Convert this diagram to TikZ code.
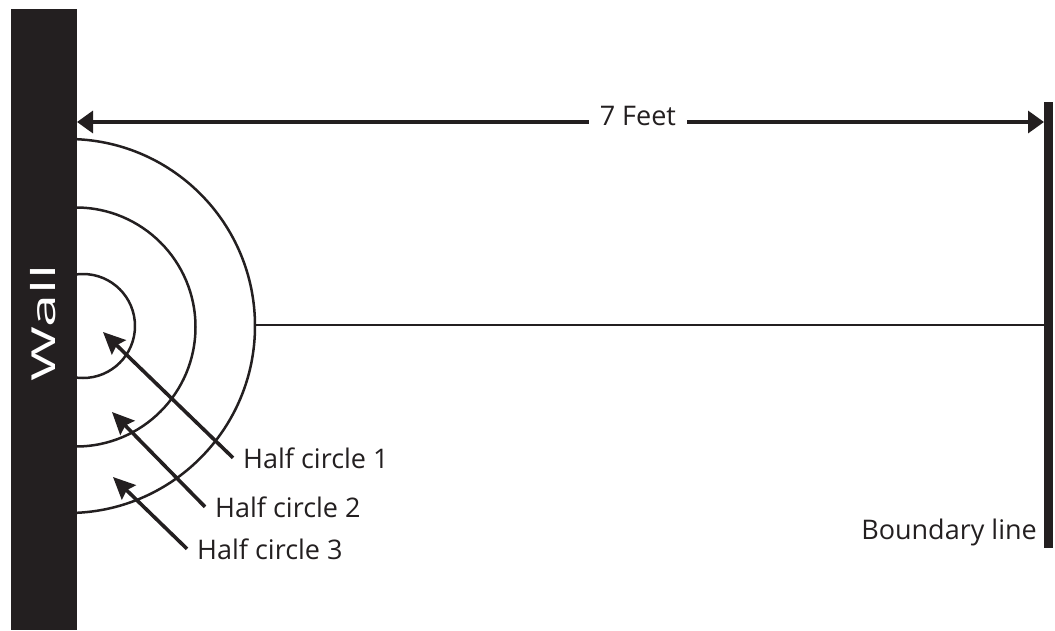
\documentclass[tikz,border=0pt]{standalone}
\usepackage{fontspec}
\setmainfont{Open Sans}
\usetikzlibrary{arrows.meta}
\definecolor{wallink}{HTML}{231F20}
\begin{document}
\begin{tikzpicture}[x=1pt,y=-1pt,line join=round,
    every node/.style={font=\fontsize{27}{31}\selectfont,text=wallink},
    ring/.style={draw=wallink,line width=2.5pt},
    pointer/.style={draw=wallink,line width=3.6pt,-{Stealth[length=22pt,width=20pt,inset=3pt]}},
    halflab/.style={anchor=base west,inner sep=10pt}]
  \useasboundingbox (0,0) rectangle (1055,630);
  % 墙与边界线
  \coordinate (W1) at (11,9);
  \coordinate (W2) at (77,630);
  \coordinate (B1) at (1044,102);
  \coordinate (B2) at (1053,548);
  \coordinate (L) at (77,122);
  \coordinate (R) at (1044,122);

  % 三个圆心与半径
  \coordinate (O1) at (83,326);
  \coordinate (O2) at (76,327);
  \coordinate (O3) at (68,326);
  \def\ra{52}
  \def\rb{119.5}
  \def\rc{187}

  % 半圆
  \begin{scope}
    \clip (77,0) rectangle (1055,630);
    \draw[ring] (O1) circle[radius=\ra];
    \draw[ring] (O2) circle[radius=\rb];
    \draw[ring] (O3) circle[radius=\rc];
  \end{scope}

  % 中线
  \coordinate (E) at (255,325);
  \coordinate (F) at (1044,325);
  \draw[ring] (E) -- (F);

  % 墙
  \fill[wallink] (W1) rectangle (W2);
  \node[rotate=90,text=white,font=\fontsize{33}{36}\selectfont,inner sep=0pt] (walltxt) at (43,323) {\scalebox{1.8}[1]{Wall}};

  % 边界线
  \fill[wallink] (B1) rectangle (B2);
  \node[anchor=base east,inner sep=0pt] (bound) at (1037,539) {Boundary line};

  % 距离
  \draw[draw=wallink,line width=3.4pt,{Triangle[length=16pt,width=22pt]}-{Triangle[length=16pt,width=22pt]}] (L) -- (R)
    node[pos=0.58,fill=white,inner xsep=11pt,anchor=base,yshift=-3pt] (feet) {7 Feet};

  % 标注与箭头
  \coordinate (T1) at (103,332);
  \coordinate (T2) at (112,412);
  \coordinate (T3) at (113,477);
  \node[halflab] (h1) at (233,468) {Half circle 1};
  \node[halflab] (h2) at (205,517) {Half circle 2};
  \node[halflab] (h3) at (187,559) {Half circle 3};
  \draw[pointer] (h1.west) -- (T1);
  \draw[pointer] (h2.west) -- (T2);
  \draw[pointer] (h3.west) -- (T3);
\end{tikzpicture}
\end{document}
